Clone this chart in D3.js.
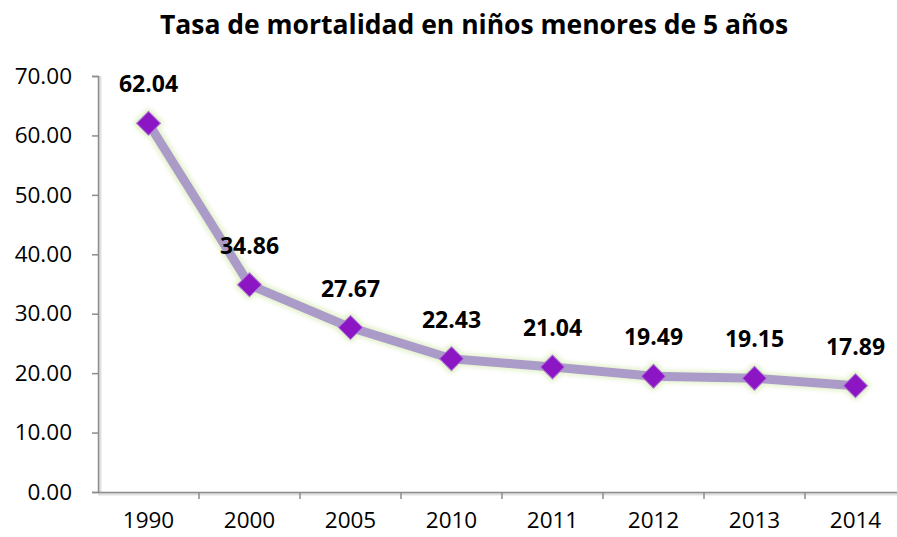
<!DOCTYPE html>
<html>
<head>
<meta charset="utf-8">
<script src="https://cdn.jsdelivr.net/npm/d3@7"></script>
<style>
  body { margin: 0; background: #fff; }
  svg { display: block; font-family: "Open Sans", "Liberation Sans", sans-serif; }
</style>
</head>
<body>
<script>
// Datos del gráfico
var years = ["1990", "2000", "2005", "2010", "2011", "2012", "2013", "2014"];
var rates = [62.04, 34.86, 27.67, 22.43, 21.04, 19.49, 19.15, 17.89];
var yTicks = [0, 10, 20, 30, 40, 50, 60, 70];
var title = "Tasa de mortalidad en niños menores de 5 años";

var width = 897, height = 537;
var plotLeft = 98, plotRight = 906, plotTop = 76, plotBottom = 492;

var svg = d3.select("body").append("svg")
    .attr("width", width)
    .attr("height", height);

var defs = svg.append("defs");
var glow = defs.append("filter").attr("id", "glow")
    .attr("filterUnits", "userSpaceOnUse")
    .attr("x", 0).attr("y", 0).attr("width", width).attr("height", height);
glow.append("feMorphology").attr("in", "SourceAlpha").attr("operator", "dilate").attr("radius", 2).attr("result", "d");
glow.append("feGaussianBlur").attr("in", "d").attr("stdDeviation", 2).attr("result", "b");
glow.append("feFlood").attr("flood-color", "#d9ecb8").attr("flood-opacity", 0.7);
glow.append("feComposite").attr("in2", "b").attr("operator", "in").attr("result", "g");
var m = glow.append("feMerge");
m.append("feMergeNode").attr("in", "g");
m.append("feMergeNode").attr("in", "SourceGraphic");

// Escalas
var x = d3.scaleBand().domain(years).range([plotLeft, plotRight]);
var y = d3.scaleLinear().domain([0, 70]).range([plotBottom, plotTop]);

// Título
svg.append("text")
    .attr("x", 474)
    .attr("y", 34)
    .attr("text-anchor", "middle")
    .attr("font-size", 26.5)
    .attr("font-weight", "bold")
    .attr("fill", "#000")
    .text(title);

// sombra de los ejes
svg.append("line")
    .attr("x1", plotLeft).attr("x2", width)
    .attr("y1", plotBottom + 2).attr("y2", plotBottom + 2)
    .attr("stroke", "#000").attr("stroke-opacity", 0.12).attr("stroke-width", 3);
svg.append("line")
    .attr("x1", plotLeft + 2).attr("x2", plotLeft + 2)
    .attr("y1", plotTop).attr("y2", plotBottom)
    .attr("stroke", "#000").attr("stroke-opacity", 0.12).attr("stroke-width", 3);

// Eje Y
var yAxis = svg.append("g")
    .attr("transform", "translate(" + plotLeft + ",0)")
    .call(d3.axisLeft(y).tickValues(yTicks).tickFormat(d3.format(".2f")).tickSizeOuter(0).tickSize(6).tickPadding(20));
yAxis.select(".domain").attr("stroke", "#8c8c8c").attr("stroke-width", 1.5);
yAxis.selectAll(".tick line").attr("stroke", "#8c8c8c").attr("stroke-width", 1.5);
yAxis.selectAll(".tick text").attr("font-size", 22.5).attr("fill", "#000")
    .attr("font-family", "'Open Sans', sans-serif");

// Eje X
var xAxis = svg.append("g")
    .attr("transform", "translate(0," + plotBottom + ")")
    .call(d3.axisBottom(x).tickSize(0).tickPadding(20).tickSizeOuter(0));
xAxis.select(".domain").attr("stroke", "#8c8c8c").attr("stroke-width", 1.5);
xAxis.selectAll(".tick text").attr("font-size", 22.5).attr("fill", "#000")
    .attr("font-family", "'Open Sans', sans-serif");
// marcas entre categorías
xAxis.selectAll(".sep")
    .data(years.slice(1))
    .enter().append("line")
    .attr("class", "sep")
    .attr("x1", d => x(d)).attr("x2", d => x(d))
    .attr("y1", 0).attr("y2", 7)
    .attr("stroke", "#8c8c8c").attr("stroke-width", 1.5);

// Línea y marcadores, con el brillo aplicado al grupo
var series = svg.append("g").attr("filter", "url(#glow)");

var line = d3.line()
    .x((d, i) => x(years[i]) + x.bandwidth() / 2)
    .y(d => y(d));

series.append("path")
    .datum(rates)
    .attr("d", line)
    .attr("fill", "none")
    .attr("stroke", "#ab9bc9")
    .attr("stroke-width", 9)
    .attr("stroke-linejoin", "round");

// Marcadores (rombos)
series.selectAll(".marker")
    .data(rates)
    .enter().append("path")
    .attr("class", "marker")
    .attr("d", d3.symbol().type(d3.symbolSquare).size(290))
    .attr("transform", (d, i) => "translate(" + (x(years[i]) + x.bandwidth() / 2) + "," + y(d) + ") rotate(45)")
    .attr("fill", "#8c12c4")
    .attr("stroke", "#b07ad6")
    .attr("stroke-width", 1);

// Etiquetas de datos
svg.selectAll(".label")
    .data(rates)
    .enter().append("text")
    .attr("class", "label")
    .attr("x", (d, i) => x(years[i]) + x.bandwidth() / 2)
    .attr("y", d => y(d) - 31)
    .attr("text-anchor", "middle")
    .attr("font-size", 23)
    .attr("font-weight", "bold")
    .attr("fill", "#000")
    .text(d => d.toFixed(2));
</script>
</body>
</html>
